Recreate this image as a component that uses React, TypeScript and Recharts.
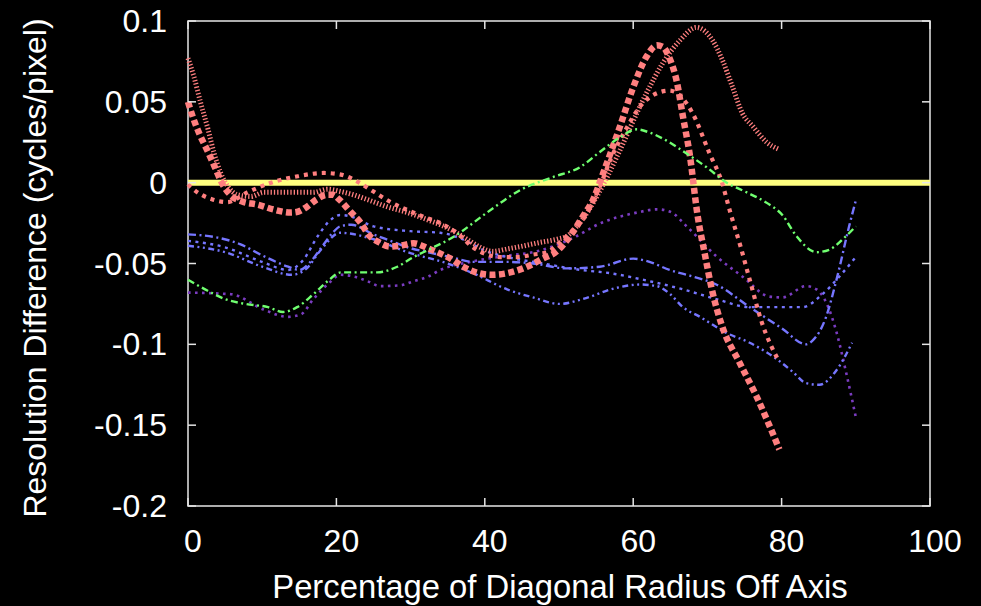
import { LineChart, Line, XAxis, YAxis, ReferenceArea } from "recharts";

// values: [percent off axis, resolution difference]
const xTicks = [0, 20, 40, 60, 80, 100];
const yTicks = [-0.2, -0.15, -0.1, -0.05, 0, 0.05, 0.1];

const zeroLine: [number, number][] = [[0, 0], [100, 0]];

const redWide: [number, number][] = [
  [0, 0.05], [0.7, 0.04], [1.6, 0.0295], [2.6, 0.02], [3.6, 0.0098], [4.7, -0.0013],
  [5.7, -0.0075], [7.3, -0.0117], [9.4, -0.0136], [11.6, -0.0167], [13.8, -0.0185],
  [14.8, -0.018], [16, -0.015], [17.3, -0.0105], [18.7, -0.0075], [19.5, -0.0075],
  [20.4, -0.0105], [21.9, -0.018], [23.3, -0.025], [24.3, -0.032], [25.8, -0.037],
  [27.2, -0.0395], [28.6, -0.039], [30.4, -0.0375], [32.3, -0.0405], [33.6, -0.043],
  [35.4, -0.047], [37.1, -0.052], [38.8, -0.0555], [40.9, -0.057], [43, -0.056],
  [45.7, -0.052], [47.8, -0.047], [49.7, -0.0425], [51.5, -0.033], [53.2, -0.021],
  [54.6, -0.0105], [55.8, 0.004], [58.2, 0.0345], [60, 0.059], [61.8, 0.078],
  [63.2, 0.085], [64, 0.084], [64.9, 0.077], [65.9, 0.062], [66.7, 0.041],
  [67.6, 0.018], [68.7, -0.021], [69.6, -0.043], [70.7, -0.068], [72, -0.089],
  [74.3, -0.111], [76.6, -0.132], [79.7, -0.165],
];

const redMid: [number, number][] = [
  [0, -0.001], [0.7, -0.004], [3.4, -0.0105], [5.3, -0.012], [8, -0.006], [11.2, 0],
  [14.8, 0.004], [18.3, 0.006], [20.6, 0.005], [22.9, 0.0005], [25, -0.0055],
  [27.3, -0.012], [29.6, -0.017], [31.7, -0.021], [34, -0.025], [36.5, -0.032],
  [38.4, -0.04], [40.3, -0.0445], [42.1, -0.046], [44.4, -0.046], [46.5, -0.0445],
  [48.4, -0.043], [50.1, -0.037], [51.5, -0.031], [52.8, -0.025], [53.8, -0.019],
  [54.6, -0.011], [55.5, -0.0025], [56.9, 0.014], [58.9, 0.032], [60.9, 0.047],
  [63.6, 0.056], [64.9, 0.057], [66.7, 0.052], [68, 0.043], [70.3, 0.018],
  [71.9, 0.001], [73, -0.017], [74.5, -0.04], [75.7, -0.06], [77.3, -0.086], [79.7, -0.111],
];

const redFine: [number, number][] = [
  [0, 0.077], [0.8, 0.0655], [1.7, 0.0495], [2.7, 0.033], [3.5, 0.0185], [4.4, 0.006],
  [5.4, -0.0025], [6.7, -0.0075], [8.5, -0.0085], [10.2, -0.006], [12.5, -0.006],
  [14.8, -0.006], [16.9, -0.006], [18.8, -0.004], [20.6, -0.0055], [22.3, -0.0075],
  [24.2, -0.0105], [26.9, -0.015], [29.6, -0.0185], [32.3, -0.023], [34, -0.026],
  [35.8, -0.03], [37.6, -0.035], [39.4, -0.04], [41.1, -0.0425], [43, -0.041],
  [44.8, -0.0395], [47.4, -0.037], [49.7, -0.035], [51.1, -0.033], [52.4, -0.027],
  [53.8, -0.0185], [55.1, -0.0085], [56.5, 0.0035], [57.8, 0.016], [61.8, 0.0555],
  [64, 0.074], [66.3, 0.088], [68.5, 0.096], [70.7, 0.088], [72, 0.076], [73.4, 0.059],
  [74.7, 0.043], [76.1, 0.035], [78, 0.025], [79.7, 0.0205],
];

const green: [number, number][] = [
  [0, -0.06], [2.3, -0.066], [5, -0.072], [7.7, -0.075], [10.8, -0.077], [12.8, -0.08],
  [14.7, -0.077], [16.9, -0.069], [18.8, -0.061], [20.6, -0.0555], [23.3, -0.0555],
  [25.5, -0.0555], [28.2, -0.052], [30.4, -0.046], [32.4, -0.0415], [35.8, -0.0335],
  [40.3, -0.0185], [44.8, -0.0045], [49.2, 0.0035], [52.8, 0.0095], [55.5, 0.019],
  [58.2, 0.028], [60.5, 0.033], [62.2, 0.031], [64.5, 0.026], [67.2, 0.018],
  [69.9, 0.0095], [72.6, 0], [75.3, -0.006], [78, -0.0125], [80.1, -0.02], [82, -0.033],
  [84.7, -0.043], [86.4, -0.0415], [88.7, -0.033], [90, -0.027],
];

const blueA: [number, number][] = [
  [0, -0.032], [4, -0.034], [7, -0.038], [10, -0.045], [13.5, -0.052], [15, -0.054],
  [16.5, -0.049], [18, -0.04], [19.5, -0.031], [20.5, -0.027], [22, -0.026], [25, -0.032],
  [27.3, -0.036], [29.6, -0.04], [32.3, -0.043], [35.4, -0.046], [38.4, -0.049],
  [43, -0.049], [46.5, -0.05], [51, -0.053], [55.5, -0.052], [60, -0.047], [62.2, -0.049],
  [64.9, -0.054], [68, -0.058], [71.2, -0.063], [75.7, -0.077], [80, -0.09], [83.3, -0.1],
  [84.1, -0.098], [86, -0.083], [87.4, -0.06], [89.1, -0.027], [90, -0.011],
];

const blueB: [number, number][] = [
  [0, -0.036], [5, -0.04], [10, -0.049], [13.5, -0.054], [15.5, -0.048], [17.5, -0.033],
  [19, -0.024], [20.5, -0.02], [22, -0.021], [25, -0.027], [30, -0.03], [34, -0.031],
  [37, -0.035], [40, -0.042], [43, -0.046], [47.8, -0.05], [53, -0.054], [56.9, -0.056],
  [61.3, -0.06], [66.7, -0.066], [71.2, -0.072], [75.7, -0.077], [80, -0.077],
  [82.8, -0.077], [85.5, -0.069], [87.8, -0.058], [90, -0.046],
];

const blueC: [number, number][] = [
  [0, -0.039], [5, -0.043], [10, -0.052], [14, -0.057], [16, -0.053], [18, -0.041],
  [20.5, -0.031], [25, -0.035], [29.6, -0.043], [35, -0.05], [38.4, -0.056], [43, -0.066],
  [46.5, -0.071], [50.1, -0.075], [53.2, -0.072], [57.8, -0.065], [60.9, -0.063],
  [63.2, -0.064], [65, -0.069], [66.7, -0.077], [69, -0.083], [72.6, -0.093],
  [75.7, -0.099], [79.3, -0.109], [81.5, -0.117], [83.3, -0.124], [85.1, -0.125],
  [87.4, -0.116], [89.5, -0.099],
];

const purple: [number, number][] = [
  [0, -0.068], [5.8, -0.069], [10.2, -0.0785], [13.4, -0.083], [15.2, -0.0815],
  [16.9, -0.072], [18.8, -0.063], [20.6, -0.057], [22.3, -0.058], [24.2, -0.061],
  [25.9, -0.064], [28.6, -0.0635], [30.4, -0.061], [32.4, -0.058], [34, -0.054],
  [38, -0.049], [42.5, -0.0455], [47, -0.0425], [51.5, -0.035], [55.9, -0.0245],
  [60.5, -0.0185], [63.2, -0.0165], [65, -0.018], [67.2, -0.027], [71.2, -0.0455],
  [74.7, -0.058], [78.4, -0.0705], [80.1, -0.071], [83.3, -0.064], [84.7, -0.066],
  [86, -0.074], [87.4, -0.0925], [88.7, -0.1175], [90, -0.145],
];

const rows = (pts: [number, number][]) => pts.map(([x, y]) => ({ x, y }));

const FONT = '"Liberation Sans", Arial, sans-serif';
const FRAME = "#e6e6e6";
const PLOT_TOP = 21;
const PLOT_BOTTOM = 506;
const PLOT_LEFT = 188;
const PLOT_RIGHT = 930;

const XTick = (props: any) => {
  const { x, payload } = props;
  return (
    <g>
      <line x1={x} x2={x} y1={PLOT_BOTTOM} y2={PLOT_BOTTOM - 8} stroke={FRAME} strokeWidth={1.5} />
      <line x1={x} x2={x} y1={PLOT_TOP} y2={PLOT_TOP + 8} stroke={FRAME} strokeWidth={1.5} />
      <text x={x + 5} y={541} textAnchor="middle" dominantBaseline="central" fill="#fff" fontSize={32} fontFamily={FONT}>
        {payload.value}
      </text>
    </g>
  );
};

const YTick = (props: any) => {
  const { y, payload } = props;
  return (
    <g>
      <line x1={PLOT_LEFT} x2={PLOT_LEFT + 8} y1={y} y2={y} stroke={FRAME} strokeWidth={1.5} />
      <line x1={PLOT_RIGHT} x2={PLOT_RIGHT - 8} y1={y} y2={y} stroke={FRAME} strokeWidth={1.5} />
      <text x={167} y={y} textAnchor="end" dominantBaseline="central" fill="#fff" fontSize={32} fontFamily={FONT}>
        {String(payload.value)}
      </text>
    </g>
  );
};

const plain = { dot: false, activeDot: false, isAnimationActive: false, type: "monotone" as const, dataKey: "y" };

export default function App() {
  return (
    <div style={{ position: "fixed", left: 0, top: 0, width: 981, height: 606, background: "#000" }}>
      <LineChart width={981} height={606} margin={{ top: PLOT_TOP, right: 981 - PLOT_RIGHT, bottom: 0, left: 0 }}>
        <XAxis
          dataKey="x"
          type="number"
          domain={[0, 100]}
          ticks={xTicks}
          interval={0}
          axisLine={false}
          tickLine={false}
          height={606 - PLOT_BOTTOM}
          tick={<XTick />}
          label={{
            content: () => (
              <text x={560} y={586} textAnchor="middle" dominantBaseline="central" fill="#fff" fontSize={32.8} fontFamily={FONT}>
                Percentage of Diagonal Radius Off Axis
              </text>
            ),
          }}
        />
        <YAxis
          type="number"
          domain={[-0.2, 0.1]}
          ticks={yTicks}
          interval={0}
          allowDataOverflow
          axisLine={false}
          tickLine={false}
          width={PLOT_LEFT}
          tick={<YTick />}
          label={{
            content: () => (
              <text
                x={35}
                y={268}
                transform="rotate(-90 35 268)"
                textAnchor="middle"
                dominantBaseline="central"
                fill="#fff"
                fontSize={32}
                fontFamily={FONT}
              >
                Resolution Difference (cycles/pixel)
              </text>
            ),
          }}
        />
        <ReferenceArea x1={0} x2={100} y1={-0.2} y2={0.1} fill="none" stroke={FRAME} strokeWidth={1.5} />
        <Line {...plain} data={rows(zeroLine)} stroke="#ffff80" strokeWidth={6} type="linear" />
        <Line {...plain} data={rows(purple)} stroke="#7a3cc0" strokeWidth={2.6} strokeDasharray="2.6 4.4" />
        <Line {...plain} data={rows(blueC)} stroke="#7676ff" strokeWidth={2.4} strokeDasharray="6 3.5 2 3.5 2 3.5" />
        <Line {...plain} data={rows(blueB)} stroke="#7676ff" strokeWidth={2.4} strokeDasharray="3 4.5" />
        <Line {...plain} data={rows(blueA)} stroke="#7676ff" strokeWidth={2.4} strokeDasharray="8 3.5 2 3.5" />
        <Line {...plain} data={rows(redFine)} stroke="#ff7f7f" strokeWidth={5} strokeDasharray="1.3 2" />
        <Line {...plain} data={rows(redMid)} stroke="#ff7f7f" strokeWidth={4.2} strokeDasharray="4 5" />
        <Line {...plain} data={rows(redWide)} stroke="#ff7f7f" strokeWidth={6.5} strokeDasharray="6 3.5" />
        <Line {...plain} data={rows(green)} stroke="#70ff70" strokeWidth={2.4} strokeDasharray="7 3.5 2 3.5" />
      </LineChart>
    </div>
  );
}
